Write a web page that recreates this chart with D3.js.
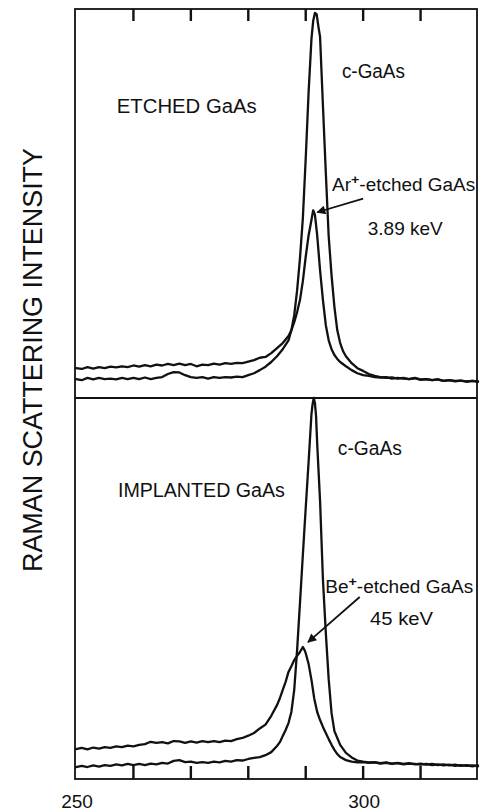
<!DOCTYPE html>
<html>
<head>
<meta charset="utf-8">
<script src="https://cdn.jsdelivr.net/npm/d3@7"></script>
<style>
  html, body { margin: 0; padding: 0; background: #fff; }
  svg { display: block; }
  .spectrum { fill: none; stroke: #111; stroke-width: 2.3; stroke-linejoin: round; stroke-linecap: round; }
  .frame { fill: none; stroke: #111; stroke-width: 1.8; }
  .lbl { font-family: "Liberation Sans", Arial, sans-serif; fill: #111; }
</style>
</head>
<body>
<svg id="chart" width="480" height="812"></svg>
<script>
'use strict';

// ── Data (wavenumber cm⁻¹, intensity a.u. 0-100 per panel) ─────────────────
const xDomain    = [250, 320];
const minorTicks = [260, 270, 280, 290, 300, 310];
const tickLabels = [250, 300];

// top panel: crystalline GaAs
const etchedPanelCrystal = [
  [250,4.9],[251,4.6],[252,5.2],[253,4.8],[254,5.2],[255,4.9],[256,5.0],[257,4.8],[258,5.2],[259,4.9],
  [260,5.2],[261,4.9],[262,5.3],[263,4.9],[264,5.2],[265,5.4],[266,6.2],[267,6.7],[268,6.6],[269,5.9],
  [270,5.4],[271,5.2],[272,5.4],[273,5.0],[274,5.4],[275,5.2],[276,5.4],[277,5.3],[278,5.5],[279,5.4],
  [280,5.9],[281,6.4],[282,7.2],[283,8.1],[284,9.3],[285,10.8],[286,12.6],[287,14.9],[287.5,17.5],
  [288,21.4],[288.5,27.8],[289,36.1],[289.5,46.4],[290,61.9],[290.5,78.9],[291,92.8],[291.3,97.4],
  [291.6,99.5],[291.9,99.2],[292.2,96.1],[292.5,93.3],[293,75.5],[293.5,58.2],[294,41.8],[294.5,31.7],
  [295,23.5],[295.5,17.5],[296,14.2],[296.5,12.1],[297,10.8],[298,9.0],[299,7.7],[300,7.0],[301,6.2],
  [302,5.7],[303,5.4],[304,5.2],[305,5.3],[306,5.0],[307,5.2],[308,4.9],[309,5.1],[310,4.7],[311,4.9],
  [312,4.6],[313,4.8],[314,4.4],[315,4.6],[316,4.3],[317,4.5],[318,4.2],[319,4.4],[320,4.2]
];

// top panel: Ar+-etched GaAs, 3.89 keV
const etchedPanelAr = [
  [250,7.7],[251,7.5],[252,8.0],[253,7.6],[254,8.0],[255,7.7],[256,8.1],[257,7.9],[258,8.2],[259,8.0],
  [260,8.4],[261,8.1],[262,8.5],[263,8.2],[264,8.6],[265,8.4],[266,8.8],[267,8.5],[268,8.9],[269,8.5],
  [270,8.8],[271,8.2],[272,8.6],[273,8.5],[274,8.9],[275,8.6],[276,9.0],[277,8.8],[278,9.1],[279,9.0],
  [280,9.4],[281,9.8],[282,10.4],[283,10.6],[284,11.6],[285,12.9],[286,14.2],[287,16.0],[287.5,17.5],
  [288,19.6],[288.5,22.2],[289,25.3],[289.5,30.2],[290,36.5],[290.5,42.0],[291,46.0],[291.3,48.5],
  [291.6,47.4],[292,42.0],[292.5,33.0],[293,25.3],[293.5,18.8],[294,14.9],[294.5,12.6],[295,11.1],
  [295.5,10.1],[296,9.3],[297,8.2],[298,7.2],[299,6.4],[300,5.9],[301,5.7],[302,5.4],[303,5.3],
  [304,5.4],[305,5.0],[306,5.2],[307,5.0],[308,4.9],[309,5.2],[310,4.8],[311,4.9],[312,4.6],[313,4.8],
  [314,4.4],[315,4.6],[316,4.4],[317,4.5],[318,4.3],[319,4.4],[320,4.3]
];

// bottom panel: crystalline GaAs
const implantedPanelCrystal = [
  [250,3.4],[251,3.7],[252,3.4],[253,3.8],[254,3.5],[255,3.9],[256,3.7],[257,4.1],[258,3.8],[259,4.2],
  [260,3.9],[261,4.2],[262,3.9],[263,4.3],[264,4.1],[265,4.5],[266,4.3],[267,5.0],[268,5.2],[269,4.7],
  [270,4.8],[271,4.5],[272,4.7],[273,4.5],[274,4.8],[275,4.6],[276,5.0],[277,4.8],[278,5.2],[279,5.1],
  [280,5.5],[281,5.8],[282,6.0],[283,6.5],[284,7.3],[285,8.9],[285.5,9.9],[286,11.5],[286.5,13.1],
  [287,14.9],[287.5,17.8],[288,23.6],[288.5,34.0],[289,46.3],[289.5,58.9],[290,71.2],[290.5,83.2],
  [291,95.8],[291.2,98.4],[291.4,100],[291.6,98.7],[291.8,95.3],[292,88.0],[292.5,73.0],[293,52.4],
  [293.5,38.5],[294,26.4],[294.5,17.5],[295,12.8],[295.5,11.0],[296,9.2],[297,7.1],[298,5.9],[299,5.1],
  [300,4.8],[301,4.6],[302,4.7],[303,4.4],[304,4.6],[305,4.3],[306,4.5],[307,4.2],[308,4.4],[309,4.1],
  [310,4.3],[311,4.0],[312,4.2],[313,3.9],[314,4.1],[315,3.8],[316,4.0],[317,3.7],[318,3.9],[319,3.6],[320,3.8]
];

// bottom panel: Be+-implanted GaAs, 45 keV
const implantedPanelBe = [
  [250,8.1],[251,8.4],[252,8.0],[253,8.5],[254,8.2],[255,8.6],[256,8.4],[257,8.8],[258,8.6],[259,9.0],
  [260,8.8],[261,9.2],[262,9.4],[263,10.0],[264,9.7],[265,9.9],[266,9.6],[267,10.2],[268,10.1],[269,9.7],
  [270,10.1],[271,9.8],[272,10.2],[273,9.9],[274,10.2],[275,9.9],[276,10.3],[277,10.2],[278,10.7],[279,11.0],
  [280,11.6],[281,12.3],[282,13.5],[283,14.5],[284,16.8],[285,19.6],[285.5,21.4],[286,23.6],[286.5,25.7],
  [287,28.3],[287.5,29.8],[288,31.4],[288.5,32.5],[289,33.5],[289.3,34.3],[289.5,34.8],[289.8,34.0],
  [290,33.2],[290.5,30.4],[291,26.2],[291.5,21.2],[292,17.8],[292.5,15.7],[293,13.9],[293.5,12.3],
  [294,10.7],[294.5,9.2],[295,7.9],[295.5,6.8],[296,6.0],[297,5.2],[298,4.8],[299,4.6],[300,4.7],
  [301,4.5],[302,4.6],[303,4.3],[304,4.5],[305,4.2],[306,4.4],[307,4.1],[308,4.3],[309,4.2],[310,4.0],
  [311,4.2],[312,3.9],[313,4.1],[314,3.8],[315,4.0],[316,3.7],[317,3.9],[318,3.7],[319,3.8],[320,3.6]
];

// ── Layout ──────────────────────────────────────────────────────────────────
const frameL = 75, frameR = 477, frameT = 9, frameM = 398, frameB = 779;

const svg = d3.select('#chart');

const x     = d3.scaleLinear().domain(xDomain).range([76, 478]);
const yTop  = d3.scaleLinear().domain([0, 100]).range([frameM, 11]);
const yBot  = d3.scaleLinear().domain([0, 100]).range([780, frameM]);

// ── Frame ───────────────────────────────────────────────────────────────────
svg.append('rect').attr('class', 'frame')
  .attr('x', frameL).attr('y', frameT)
  .attr('width', frameR - frameL).attr('height', frameB - frameT);
svg.append('line').attr('class', 'frame')
  .attr('x1', frameL).attr('x2', frameR).attr('y1', frameM).attr('y2', frameM)
  .style('stroke-width', 2);

// ── Ticks (inward, top and bottom edges) ────────────────────────────────────
const ticksG = svg.append('g').attr('fill', '#111');
ticksG.selectAll('rect.top-tick')
  .data(minorTicks).join('rect')
  .attr('class', 'top-tick')
  .attr('x', d => x(d) - 1.2).attr('width', 2.4)
  .attr('y', frameT).attr('height', 12);
ticksG.selectAll('rect.bot-tick')
  .data(minorTicks).join('rect')
  .attr('class', 'bot-tick')
  .attr('x', d => x(d) - 1.2).attr('width', 2.4)
  .attr('y', frameB - 13).attr('height', 13);

svg.selectAll('text.ticklbl')
  .data(tickLabels).join('text')
  .attr('class', 'lbl ticklbl')
  .attr('x', d => x(d) + 1)
  .attr('y', 808)
  .attr('text-anchor', 'middle')
  .style('font-size', '19px')
  .text(d => d);

// ── Spectra ─────────────────────────────────────────────────────────────────
const lineTop = d3.line().x(d => x(d[0])).y(d => yTop(d[1]));
const lineBot = d3.line().x(d => x(d[0])).y(d => yBot(d[1]));

[etchedPanelCrystal, etchedPanelAr].forEach(s =>
  svg.append('path').attr('class', 'spectrum').attr('d', lineTop(s)));
[implantedPanelCrystal, implantedPanelBe].forEach(s =>
  svg.append('path').attr('class', 'spectrum').attr('d', lineBot(s)));

// ── Arrows ──────────────────────────────────────────────────────────────────
svg.append('defs').append('marker')
  .attr('id', 'arrow')
  .attr('viewBox', '0 0 10 10')
  .attr('refX', 9).attr('refY', 5)
  .attr('markerUnits', 'userSpaceOnUse')
  .attr('markerWidth', 11).attr('markerHeight', 9)
  .attr('orient', 'auto')
  .append('path').attr('d', 'M0,0 L10,5 L0,10 z').attr('fill', '#111');

svg.append('line')
  .attr('x1', x(300.0)).attr('y1', yTop(51.5))
  .attr('x2', x(292.0)).attr('y2', yTop(48.0))
  .attr('stroke', '#111').attr('stroke-width', 1.8)
  .attr('marker-end', 'url(#arrow)');

svg.append('line')
  .attr('x1', x(299.4)).attr('y1', yBot(47.9))
  .attr('x2', x(290.4)).attr('y2', yBot(36.1))
  .attr('stroke', '#111').attr('stroke-width', 1.8)
  .attr('marker-end', 'url(#arrow)');

// ── Labels ──────────────────────────────────────────────────────────────────
function label(px, py, size, parts, len) {
  const t = svg.append('text').attr('class', 'lbl')
    .attr('x', px).attr('y', py)
    .style('font-size', size + 'px');
  parts.forEach(p => {
    const s = t.append('tspan').text(p.t);
    if (p.sup) s.attr('dy', -7).style('font-size', (size * 0.75) + 'px').style('font-weight', 'bold');
    if (p.down) s.attr('dy', 7);
  });
  if (len) t.attr('textLength', len).attr('lengthAdjust', 'spacingAndGlyphs');
  return t;
}

label(x(296.3), yTop(82.7), 20, [{ t: 'c-GaAs' }], 63);
label(x(257.1), yTop(73.7), 20, [{ t: 'ETCHED GaAs' }], 140);
label(x(294.6), yTop(53.6), 18, [{ t: 'Ar' }, { t: '+', sup: true }, { t: '-etched GaAs', down: true }], 143);
label(x(300.8), yTop(42.0), 19, [{ t: '3.89 keV' }], 75);

label(x(295.6), yBot(85.1), 20, [{ t: 'c-GaAs' }], 64);
label(x(257.3), yBot(74.1), 20, [{ t: 'IMPLANTED GaAs' }], 167);
label(x(293.4), yBot(49.0), 18, [{ t: 'Be' }, { t: '+', sup: true }, { t: '-etched  GaAs', down: true }], 148);
label(x(301.2), yBot(40.6), 19, [{ t: '45 keV' }], 63);

// y-axis title
svg.append('text').attr('class', 'lbl')
  .attr('transform', 'translate(42,360) rotate(-90)')
  .attr('text-anchor', 'middle')
  .attr('textLength', 424).attr('lengthAdjust', 'spacingAndGlyphs')
  .style('font-size', '28px')
  .text('RAMAN SCATTERING INTENSITY');
</script>
</body>
</html>
